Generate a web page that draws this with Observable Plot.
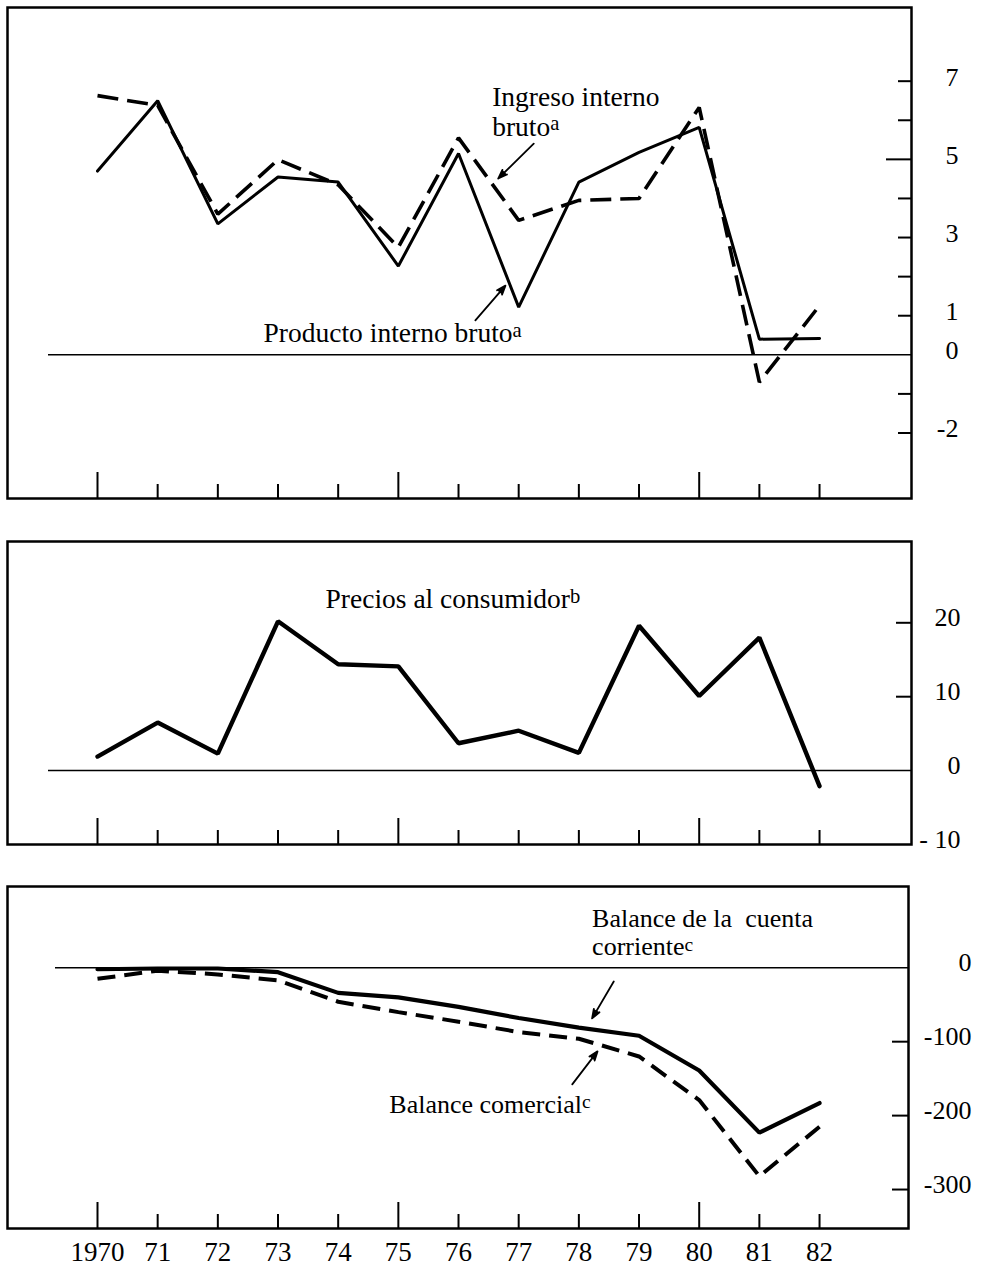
<!DOCTYPE html>
<html>
<head>
<meta charset="utf-8">
<script src="https://cdn.jsdelivr.net/npm/d3@7"></script>
<script src="https://cdn.jsdelivr.net/npm/@observablehq/plot@0.6"></script>
<style>
  body { margin: 0; background: #fff; }
  #chart { position: relative; width: 981px; height: 1267px; background: #fff; }
  #chart svg { position: absolute; left: 0; }
</style>
</head>
<body>
<div id="chart"></div>
<script>
// ---------- data ----------
const years = [1970, 1971, 1972, 1973, 1974, 1975, 1976, 1977, 1978, 1979, 1980, 1981, 1982];
const yearLabels = ["1970", "71", "72", "73", "74", "75", "76", "77", "78", "79", "80", "81", "82"];
const longYearTicks = [1970, 1975, 1980];

// Panel 1: growth rates (%)
const productoInternoBruto = [4.7, 6.5, 3.35, 4.55, 4.42, 2.27, 5.15, 1.22, 4.42, 5.18, 5.82, 0.4, 0.42];
const ingresoInternoBruto  = [6.63, 6.38, 3.6, 4.99, 4.35, 2.75, 5.55, 3.44, 3.95, 4.0, 6.33, -0.7, 1.26];
// Panel 2: consumer prices (%)
const preciosConsumidor = [1.9, 6.5, 2.3, 20.2, 14.4, 14.1, 3.7, 5.4, 2.4, 19.6, 10.1, 18.0, -2.1];
// Panel 3: balances
const balanceCuentaCorriente = [-2, -1, -1, -6, -34, -40, -53, -68, -81, -92, -139, -223, -183];
const balanceComercial       = [-15, -4, -9, -17, -46, -60, -73, -87, -96, -120, -179, -282, -215];

// axis ticks / labels
const p1Ticks = [7, 6, 4, 3, 2, 1, -1, -2];
const p1LongTicks = [5];
const p1Labels = [7, 5, 3, 1, 0, -2];
const p2Ticks = [20, 10];
const p2Labels = [20, 10, 0, -10];
const p2LabelText = ["20", "10", "0", "- 10"];
const p3Ticks = [-100, -200, -300];
const p3Labels = [0, -100, -200, -300];

// annotations
const p1Notes = [
  {x: 1976.56, y: 5.61, text: "Ingreso interno\nbruto^a"},
  {x: 1972.76, y: 0.32, text: "Producto interno bruto^a"}
];
const p1Arrows = [
  {x1: 1977.25, y1: 5.40, x2: 1976.66, y2: 4.51},
  {x1: 1976.28, y1: 0.88, x2: 1976.78, y2: 1.77}
];
const p2Notes = [
  {x: 1973.79, y: 22.0, text: "Precios al consumidor^b"}
];
const p3Notes = [
  {x: 1978.22, y: 16.6, text: "Balance de la\u00a0 cuenta\ncorriente^c"},
  {x: 1974.85, y: -196.5, text: "Balance comercial^c"}
];
const p3Arrows = [
  {x1: 1978.58, y1: -18.5, x2: 1978.22, y2: -68.5},
  {x1: 1977.89, y1: -157.7, x2: 1978.31, y2: -113.1}
];

// tables built from the arrays
const table = years.map((year, i) => ({
  year,
  pib: productoInternoBruto[i],
  ingreso: ingresoInternoBruto[i],
  precios: preciosConsumidor[i],
  cuenta: balanceCuentaCorriente[i],
  comercial: balanceComercial[i]
}));

// ---------- layout ----------
const W = 981;
const FONT = "'Liberation Serif', 'Times New Roman', Times, serif";
const FS = 26;
const FS_NOTE = 27.5;
const X1970 = 97, PX_PER_YEAR = 60.17, FRAME_LEFT = 7;
const chart = document.getElementById("chart");

function supNode(el) {
  const t = el.textContent;
  if (!t.includes("^")) return;
  const [main, sup] = t.split("^");
  while (el.firstChild) el.removeChild(el.firstChild);
  el.appendChild(document.createTextNode(main));
  const ts = document.createElementNS("http://www.w3.org/2000/svg", "tspan");
  ts.setAttribute("dy", "-0.25em");
  ts.setAttribute("font-size", "75%");
  ts.textContent = sup;
  el.appendChild(ts);
}

function superscripts(svg) {
  d3.select(svg).selectAll("text").each(function () {
    const lines = this.querySelectorAll("tspan");
    if (lines.length) lines.forEach(supNode);
    else supNode(this);
  });
}

function panel({top, height, marginTop, marginBottom, right, yDomain, marks}) {
  const svg = Plot.plot({
    width: W,
    height,
    marginLeft: FRAME_LEFT,
    marginRight: W - right,
    marginTop,
    marginBottom,
    x: {domain: [1970 + (FRAME_LEFT - X1970) / PX_PER_YEAR, 1970 + (right - X1970) / PX_PER_YEAR], axis: null},
    y: {domain: yDomain, axis: null},
    style: {fontFamily: FONT, fontSize: FS + "px", background: "#fff", color: "#000", overflow: "visible"},
    marks
  });
  svg.style.top = top + "px";
  superscripts(svg);
  chart.appendChild(svg);
}

function yearTicks(innerH) {
  return [
    Plot.ruleX(years.filter(y => !longYearTicks.includes(y)), {x: d => d, insetTop: innerH - 14, stroke: "#000", strokeWidth: 2}),
    Plot.ruleX(longYearTicks, {x: d => d, insetTop: innerH - 26, stroke: "#000", strokeWidth: 2})
  ];
}

// ---------- panel 1 ----------
{
  const top = 0, height = 520, mt = 7, mb = 22, right = 911;
  const innerW = right - FRAME_LEFT, innerH = height - mt - mb;
  panel({
    top, height, marginTop: mt, marginBottom: mb, right,
    yDomain: [-3.676, 8.885],
    marks: [
      Plot.ruleY([0], {y: d => d, insetLeft: 41, stroke: "#000", strokeWidth: 1.5}),
      Plot.ruleY(p1Ticks, {y: d => d, insetLeft: innerW - 13, stroke: "#000", strokeWidth: 2}),
      Plot.ruleY(p1LongTicks, {y: d => d, insetLeft: innerW - 25, stroke: "#000", strokeWidth: 2}),
      ...yearTicks(innerH),
      Plot.line(table, {x: "year", y: "ingreso", stroke: "#000", strokeWidth: 3.6, strokeDasharray: "21,9", strokeLinecap: "butt", strokeLinejoin: "miter"}),
      Plot.line(table, {x: "year", y: "pib", stroke: "#000", strokeWidth: 3, strokeLinejoin: "miter"}),
      Plot.arrow(p1Arrows, {x1: "x1", y1: "y1", x2: "x2", y2: "y2", stroke: "#000", fill: "#000", strokeWidth: 1.8, headLength: 8, headAngle: 40}),
      Plot.text(p1Notes, {x: "x", y: "y", text: "text", textAnchor: "start", lineAnchor: "bottom", lineHeight: 1.09, fontSize: FS_NOTE, fill: "#000"}),
      Plot.axisY({ticks: p1Labels, anchor: "right", tickSize: 0, tickPadding: 47, textAnchor: "end", dy: -4, fontSize: FS, tickFormat: d => String(d), label: null}),
      Plot.frame({stroke: "#000", strokeWidth: 2.5})
    ]
  });
}

// ---------- panel 2 ----------
{
  const top = 520, height = 345, mt = 21, mb = 21, right = 911;
  const innerW = right - FRAME_LEFT, innerH = height - mt - mb;
  panel({
    top, height, marginTop: mt, marginBottom: mb, right,
    yDomain: [-10, 31],
    marks: [
      Plot.ruleY([0], {y: d => d, insetLeft: 41, stroke: "#000", strokeWidth: 1.5}),
      Plot.ruleY(p2Ticks, {y: d => d, insetLeft: innerW - 15, stroke: "#000", strokeWidth: 2}),
      ...yearTicks(innerH),
      Plot.line(table, {x: "year", y: "precios", stroke: "#000", strokeWidth: 4.4, strokeLinejoin: "miter"}),
      Plot.text(p2Notes, {x: "x", y: "y", text: "text", textAnchor: "start", lineAnchor: "bottom", fontSize: FS_NOTE, fill: "#000"}),
      Plot.axisY({ticks: p2Labels, anchor: "right", tickSize: 0, tickPadding: 49, textAnchor: "end", dy: -5, fontSize: FS, tickFormat: d => p2LabelText[p2Labels.indexOf(d)], label: null}),
      Plot.frame({stroke: "#000", strokeWidth: 2.5})
    ]
  });
}

// ---------- panel 3 ----------
{
  const top = 865, height = 402, mt = 21, mb = 39, right = 908;
  const innerW = right - FRAME_LEFT, innerH = height - mt - mb;
  panel({
    top, height, marginTop: mt, marginBottom: mb, right,
    yDomain: [-352.7, 109.9],
    marks: [
      Plot.ruleY([0], {y: d => d, insetLeft: 48, stroke: "#000", strokeWidth: 1.5}),
      Plot.ruleY(p3Ticks, {y: d => d, insetLeft: innerW - 16, stroke: "#000", strokeWidth: 2}),
      ...yearTicks(innerH),
      Plot.line(table, {x: "year", y: "comercial", stroke: "#000", strokeWidth: 4, strokeDasharray: "18,9", strokeLinecap: "butt", strokeLinejoin: "miter"}),
      Plot.line(table, {x: "year", y: "cuenta", stroke: "#000", strokeWidth: 4.2, strokeLinejoin: "miter"}),
      Plot.arrow(p3Arrows, {x1: "x1", y1: "y1", x2: "x2", y2: "y2", stroke: "#000", fill: "#000", strokeWidth: 1.8, headLength: 8, headAngle: 40}),
      Plot.text(p3Notes, {x: "x", y: "y", text: "text", textAnchor: "start", lineAnchor: "bottom", lineHeight: 1.09, fontSize: FS, fill: "#000"}),
      Plot.axisY({ticks: p3Labels, anchor: "right", tickSize: 0, tickPadding: 63, textAnchor: "end", dy: -5, fontSize: FS, tickFormat: d => String(d), label: null}),
      Plot.axisX({ticks: years, anchor: "bottom", tickSize: 0, tickPadding: 13, fontSize: FS + 1, tickFormat: d => yearLabels[years.indexOf(d)], label: null}),
      Plot.frame({stroke: "#000", strokeWidth: 2.5})
    ]
  });
}
</script>
</body>
</html>
